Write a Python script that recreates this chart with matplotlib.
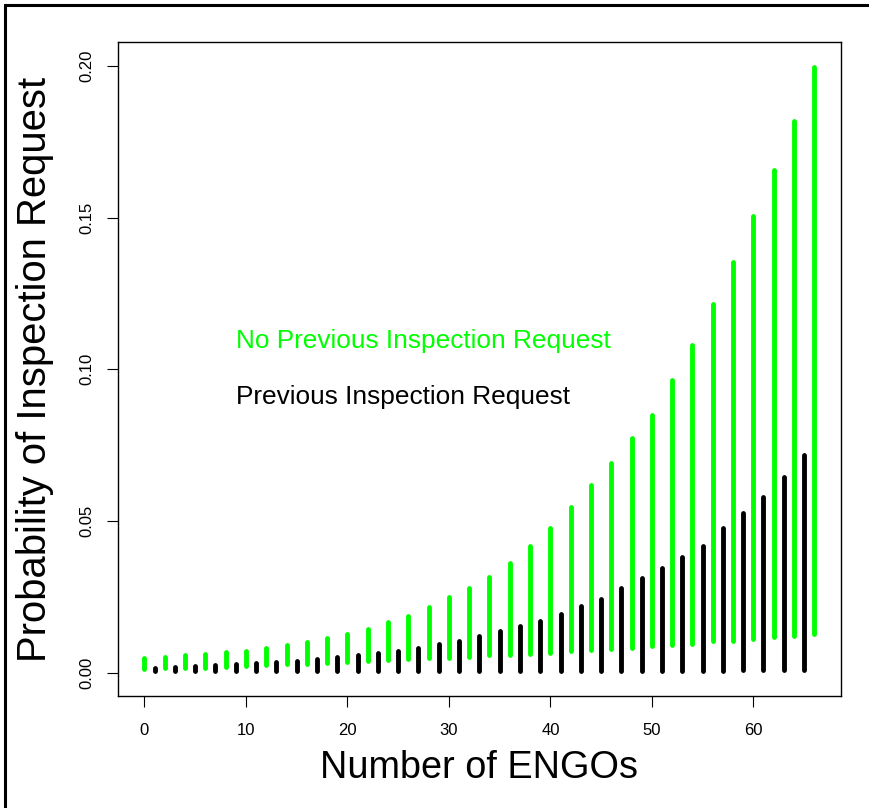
import numpy as np
import matplotlib.pyplot as plt
from matplotlib.patches import Rectangle

plt.rcParams['font.family'] = ['Liberation Sans', 'DejaVu Sans']

# Number of ENGOs (green: no previous request, black: previous request)
x_green = list(range(0, 67, 2))
x_black = list(range(1, 66, 2))

# interval ends
green_low = [0.0012, 0.0014, 0.0015, 0.0017, 0.0019, 0.0021, 0.0024, 0.0027,
             0.0030, 0.0033, 0.0036, 0.0040, 0.0041, 0.0045, 0.0048, 0.0050,
             0.0053, 0.0057, 0.0059, 0.0061, 0.0066, 0.0070, 0.0074, 0.0078,
             0.0083, 0.0087, 0.0092, 0.0096, 0.0103, 0.0105, 0.0110, 0.0116,
             0.0122, 0.0127]
green_high = [0.0047, 0.0052, 0.0057, 0.0062, 0.0068, 0.0073, 0.0082, 0.0090,
              0.0101, 0.0113, 0.0127, 0.0143, 0.0166, 0.0188, 0.0216, 0.0249,
              0.0280, 0.0315, 0.0363, 0.0418, 0.0478, 0.0547, 0.0620, 0.0691,
              0.0773, 0.0849, 0.0966, 0.1081, 0.1217, 0.1355, 0.1506, 0.1658,
              0.1817, 0.1998]
black_low = [0.0004, 0.0004, 0.0004, 0.0004, 0.0004, 0.0005, 0.0005, 0.0005,
             0.0005, 0.0005, 0.0005, 0.0005, 0.0005, 0.0005, 0.0005, 0.0006,
             0.0006, 0.0006, 0.0006, 0.0006, 0.0006, 0.0006, 0.0006, 0.0007,
             0.0007, 0.0007, 0.0007, 0.0007, 0.0007, 0.0008, 0.0008, 0.0008,
             0.0008]
black_high = [0.0016, 0.0019, 0.0021, 0.0025, 0.0028, 0.0031, 0.0036, 0.0040,
              0.0046, 0.0051, 0.0058, 0.0064, 0.0073, 0.0082, 0.0094, 0.0105,
              0.0122, 0.0138, 0.0155, 0.0172, 0.0192, 0.0221, 0.0242, 0.0279,
              0.0313, 0.0345, 0.0380, 0.0419, 0.0476, 0.0526, 0.0578, 0.0646,
              0.0719]

x_ticks = [0, 10, 20, 30, 40, 50, 60]
y_ticks = [0.00, 0.05, 0.10, 0.15, 0.20]
y_ticklabels = ["0.00", "0.05", "0.10", "0.15", "0.20"]

fig = plt.figure(figsize=(8.69, 8.08), dpi=100)
ax = fig.add_axes([0.1354, 0.138, 0.8324, 0.810])

ax.vlines(x_green, green_low, green_high, colors="#00ff00", linewidth=3.5,
          capstyle="round")
ax.vlines(x_black, black_low, black_high, colors="black", linewidth=3.5,
          capstyle="round")

ax.set_xlim(-2.64, 68.64)
ax.set_ylim(-0.00785, 0.2079)

ax.set_xticks(x_ticks)
ax.set_yticks(y_ticks)
ax.set_yticklabels(y_ticklabels, rotation=90, va="center")
ax.tick_params(direction="out", length=8, width=0.8, labelsize=12)
ax.tick_params(axis="x", pad=11)
ax.tick_params(axis="y", pad=9)
for s in ax.spines.values():
    s.set_linewidth(1.0)

ax.set_xlabel("Number of ENGOs", fontsize=27.3)
ax.set_ylabel("Probability of Inspection Request", fontsize=28.8)
ax.xaxis.set_label_coords(0.5, -0.109)
ax.xaxis.label.set_va("center")
ax.yaxis.set_label_coords(-0.1143, 0.5)
ax.yaxis.label.set_va("center")

ax.text(9.0, 0.1094, "No Previous Inspection Request", color="#00ff00",
        fontsize=18.9, va="center", ha="left")
ax.text(9.0, 0.0909, "Previous Inspection Request", color="black",
        fontsize=18.9, va="center", ha="left")

# frame around the whole figure
fig.patches.append(Rectangle((5 / 869, -0.05), 1.2, 1 - 5 / 808 + 0.05,
                             transform=fig.transFigure, fill=False,
                             edgecolor="black", linewidth=2.2))

fig.savefig("out.png", dpi=100)
